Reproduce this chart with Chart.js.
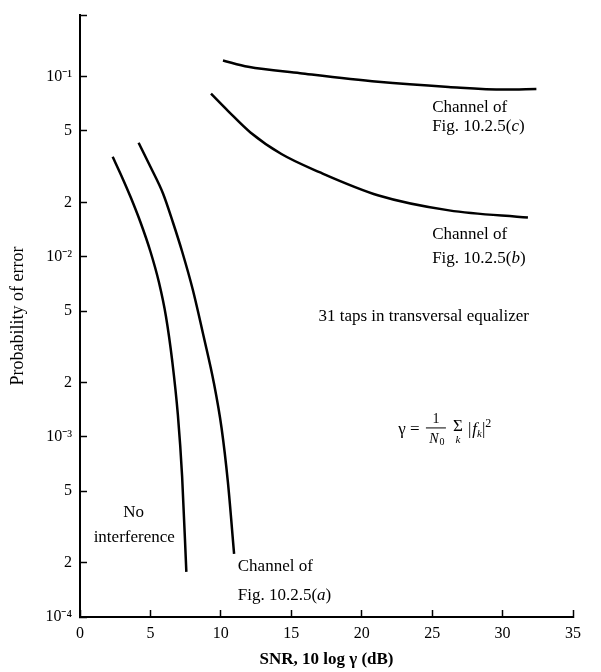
<!DOCTYPE html>
<html>
<head>
<meta charset="utf-8">
<script src="https://cdn.jsdelivr.net/npm/chart.js@4"></script>
<style>
  html, body { margin: 0; padding: 0; background: #fff; }
</style>
</head>
<body>
<canvas id="myChart" width="601" height="672"></canvas>
<script>
// values (SNR in dB, probability of error)
const noInterfSnr = [2.32, 3.0, 3.6, 4.3, 5.0, 5.6, 6.1, 6.55, 6.95, 7.25, 7.55];
const noInterfPe = [0.0359, 0.0275, 0.0214, 0.0155, 0.0107, 0.00724, 0.00468, 0.00263, 0.00132, 0.000603, 0.000178];

const chanASnr = [4.16, 5.0, 5.9, 6.6, 7.25, 8.0, 8.8, 9.5, 10.05, 10.5, 10.94];
const chanAPe = [0.043, 0.0316, 0.0224, 0.0155, 0.0107, 0.0066, 0.00355, 0.002, 0.00112, 0.00056, 0.000224];

const chanBSnr = [9.3, 10.5, 12.1, 14.3, 17.0, 21.2, 26.2, 31.8];
const chanBPe = [0.0804, 0.0646, 0.049, 0.0372, 0.0295, 0.0219, 0.0181, 0.0165];

const chanCSnr = [10.15, 11.94, 15.63, 21.16, 26.17, 30.13, 32.4];
const chanCPe = [0.123, 0.1135, 0.1045, 0.0936, 0.0877, 0.0848, 0.0855];

const xTicks = [0, 5, 10, 15, 20, 25, 30, 35];
const yTickValues = [1e-4, 2e-4, 5e-4, 1e-3, 2e-3, 5e-3, 1e-2, 2e-2, 5e-2, 1e-1, 0.22];
const yTickLabels = ["10\u207B\u2074", "2", "5", "10\u207B\u00B3", "2", "5", "10\u207B\u00B2", "2", "5", "10\u207B\u00B9", ""];

const serif = "'Liberation Serif', 'Times New Roman', serif";
Chart.defaults.font.family = serif;
Chart.defaults.color = "#000";

function toPoints(xs, ys) {
    return xs.map((x, i) => ({ x: x, y: ys[i] }));
}

function curve(xs, ys) {
    return {
        data: toPoints(xs, ys),
        showLine: true,
        borderColor: "#000",
        borderWidth: 2.5,
        pointRadius: 0,
        cubicInterpolationMode: "monotone",
        fill: false,
    };
}

// text labels: position in data units, runs of plain / italic text
const notes = [
    { x: 25.0, y: 0.0675, align: "left", runs: [{ t: "Channel of" }] },
    { x: 25.0, y: 0.053, align: "left", runs: [{ t: "Fig. 10.2.5(" }, { t: "c", i: true }, { t: ")" }] },
    { x: 25.0, y: 0.0133, align: "left", runs: [{ t: "Channel of" }] },
    { x: 25.0, y: 0.0098, align: "left", runs: [{ t: "Fig. 10.2.5(" }, { t: "b", i: true }, { t: ")" }] },
    { x: 24.4, y: 0.00464, align: "center", runs: [{ t: "31 taps in transversal equalizer" }] },
    { x: 3.8, y: 0.00038, align: "center", runs: [{ t: "No" }] },
    { x: 3.85, y: 0.000277, align: "center", runs: [{ t: "interference" }] },
    { x: 11.2, y: 0.00019, align: "left", runs: [{ t: "Channel of" }] },
    { x: 11.2, y: 0.000132, align: "left", runs: [{ t: "Fig. 10.2.5(" }, { t: "a", i: true }, { t: ")" }] },
];
const formulaAt = { x: 22.6, y: 0.0011 };

function drawRuns(c, x, y, runs, size, align) {
    let total = 0;
    runs.forEach((r) => {
        c.font = (r.i ? "italic " : "") + size + "px " + serif;
        r.w = c.measureText(r.t).width;
        total += r.w;
    });
    let cx = align === "center" ? x - total / 2 : x;
    runs.forEach((r) => {
        c.font = (r.i ? "italic " : "") + size + "px " + serif;
        c.fillText(r.t, cx, y);
        cx += r.w;
    });
}

const notesPlugin = {
    id: "notes",
    afterDatasetsDraw(chart) {
        const c = chart.ctx;
        const xs = chart.scales.x;
        const ys = chart.scales.y;
        c.save();
        c.fillStyle = "#000";
        c.textBaseline = "middle";
        c.textAlign = "left";
        notes.forEach((n) => {
            drawRuns(c, xs.getPixelForValue(n.x), ys.getPixelForValue(n.y), n.runs, 17, n.align);
        });

        // gamma = 1/N0 sum_k |f_k|^2
        let px = xs.getPixelForValue(formulaAt.x);
        let py = ys.getPixelForValue(formulaAt.y);
        c.font = "17px " + serif;
        c.fillText("\u03B3 =", px, py);
        let x0 = px + c.measureText("\u03B3 = ").width + 2;
        c.font = "14px " + serif;
        c.textAlign = "center";
        c.fillText("1", x0 + 10, py - 10);
        c.lineWidth = 1;
        c.beginPath();
        c.moveTo(x0, py - 1.5);
        c.lineTo(x0 + 20, py - 1.5);
        c.stroke();
        c.font = "italic 14px " + serif;
        c.fillText("N", x0 + 8, py + 10);
        c.font = "10px " + serif;
        c.fillText("0", x0 + 16, py + 13);
        c.font = "17px " + serif;
        c.fillText("\u03A3", x0 + 32, py - 3);
        c.font = "italic 11px " + serif;
        c.fillText("k", x0 + 32, py + 11);
        c.textAlign = "left";
        let fx = x0 + 42;
        c.font = "17px " + serif;
        c.fillText("|", fx, py);
        fx += c.measureText("|").width + 1;
        c.font = "italic 17px " + serif;
        c.fillText("f", fx, py);
        fx += c.measureText("f").width;
        c.font = "italic 11px " + serif;
        c.fillText("k", fx, py + 5);
        fx += c.measureText("k").width;
        c.font = "17px " + serif;
        c.fillText("|", fx, py);
        fx += c.measureText("|").width;
        c.font = "12px " + serif;
        c.fillText("2", fx, py - 6);
        c.restore();
    },
};

const ctx = document.getElementById("myChart");

new Chart(ctx, {
    type: "scatter",
    data: {
        datasets: [
            curve(noInterfSnr, noInterfPe),
            curve(chanASnr, chanAPe),
            curve(chanBSnr, chanBPe),
            curve(chanCSnr, chanCPe),
        ],
    },
    options: {
        responsive: false,
        animation: false,
        layout: { padding: { top: 15, right: 28, left: 0, bottom: 0 } },
        plugins: {
            legend: { display: false },
            tooltip: { enabled: false },
        },
        scales: {
            x: {
                type: "linear",
                min: 0,
                max: 35,
                afterBuildTicks: (s) => {
                    s.ticks = xTicks.map((v) => ({ value: v }));
                },
                ticks: { font: { size: 16 }, padding: 14, maxRotation: 0, autoSkip: false },
                grid: { drawOnChartArea: false, tickLength: -7, tickColor: "#000", tickWidth: 1.5 },
                border: { color: "#000", width: 2 },
                title: {
                    display: true,
                    text: "SNR, 10 log \u03B3 (dB)",
                    font: { size: 17, weight: "bold" },
                    padding: { top: 2, bottom: 2 },
                },
                afterFit: (s) => {
                    s.height = 55;
                    s.paddingLeft = 0;
                    s.paddingRight = 0;
                },
            },
            y: {
                type: "logarithmic",
                min: 1e-4,
                max: 0.22,
                afterBuildTicks: (s) => {
                    s.ticks = yTickValues.map((v) => ({ value: v }));
                },
                ticks: {
                    font: { size: 16 },
                    padding: 15,
                    autoSkip: false,
                    callback: (v, i) => yTickLabels[i],
                },
                grid: { drawOnChartArea: false, tickLength: -7, tickColor: "#000", tickWidth: 1.5 },
                border: { color: "#000", width: 2 },
                title: {
                    display: true,
                    text: "Probability of error",
                    font: { size: 18 },
                    padding: { top: 7, bottom: 7 },
                },
                afterFit: (s) => {
                    s.width = 80;
                    s.paddingTop = 0;
                    s.paddingBottom = 0;
                },
            },
        },
    },
    plugins: [notesPlugin],
});
</script>
</body>
</html>
